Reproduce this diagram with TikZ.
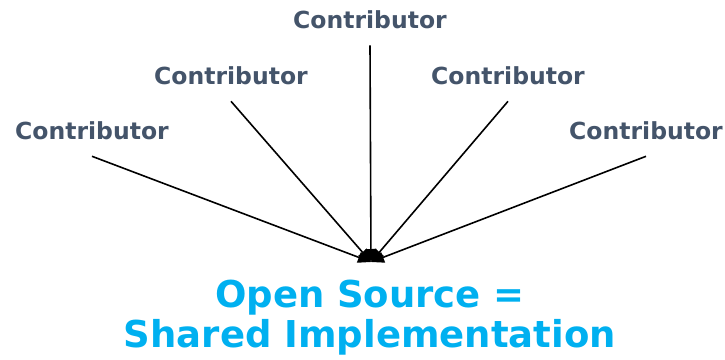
\documentclass[tikz,border=0pt]{standalone}
\usepackage{fontspec}
\setmainfont{DejaVu Sans}
\usetikzlibrary{arrows.meta}
\definecolor{contribgray}{HTML}{44546A}
\definecolor{oscyan}{HTML}{00B0F0}

\begin{document}
\begin{tikzpicture}[x=1pt,y=-1pt,
	contributor/.style={font=\bfseries\fontsize{23.5}{28}\selectfont,text=contribgray,inner sep=0pt},
	feed/.style={-{Triangle[length=13pt,width=11pt]},line width=1.6pt}]
	\useasboundingbox (0,0) rectangle (725,359);
	% contributors around the top
	\node[contributor] (c1) at (92,131) {Contributor};
	\node[contributor] (c2) at (231,76) {Contributor};
	\node[contributor] (c3) at (370,20) {Contributor};
	\node[contributor] (c4) at (508,76) {Contributor};
	\node[contributor] (c5) at (646,131) {Contributor};
	\coordinate (hub) at (371,262);
	\foreach \c in {c1,c2,c3,c4,c5}
		\draw[feed] ([yshift=-16pt]\c.south) -- (hub);
	% shared result
	\node[font=\bfseries\fontsize{37}{40}\selectfont,text=oscyan,align=center,inner sep=0pt,anchor=base] (shared) at (370,347) {Open Source =\\Shared Implementation};
\end{tikzpicture}
\end{document}
